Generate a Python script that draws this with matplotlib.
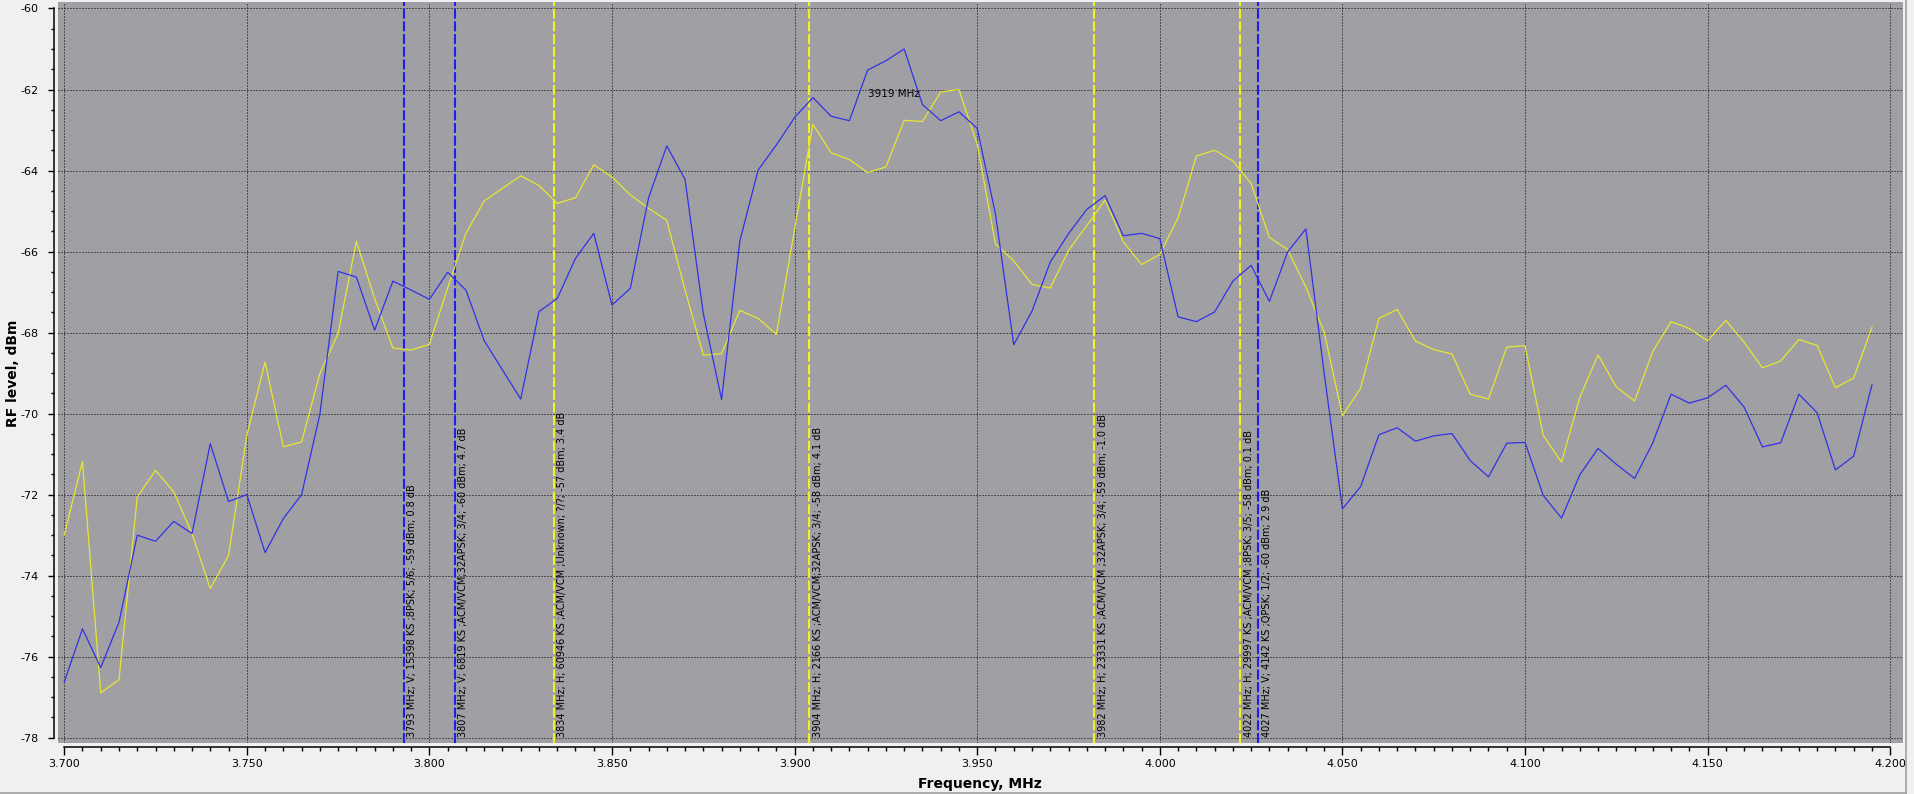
import numpy as np
import matplotlib.pyplot as plt
from matplotlib.ticker import MultipleLocator, FormatStrFormatter
from matplotlib.lines import Line2D

plt.rcParams['axes.unicode_minus'] = False
plt.rcParams['font.family'] = 'DejaVu Sans'

# sweep 3.700 ... 4.195, 100 points
freq = np.round(np.arange(3.700, 4.1975, 0.005), 3)

blue_level = [
    -76.63, -75.31, -76.27, -75.15, -73.00, -73.15, -72.66, -72.96, -70.74, -72.17,
    -72.00, -73.43, -72.59, -72.00, -70.02, -66.49, -66.63, -67.94, -66.73, -66.95,
    -67.18, -66.51, -66.95, -68.20, -68.92, -69.64, -67.48, -67.16, -66.17, -65.55,
    -67.32, -66.91, -64.68, -63.39, -64.22, -67.53, -69.65, -65.74, -63.99, -63.37,
    -62.69, -62.20, -62.66, -62.77, -61.52, -61.29, -61.00, -62.37, -62.77, -62.55,
    -62.96, -65.07, -68.30, -67.47, -66.26, -65.56, -64.96, -64.62, -65.61, -65.55,
    -65.68, -67.61, -67.73, -67.49, -66.73, -66.34, -67.23, -66.01, -65.44, -69.00,
    -72.35, -71.80, -70.52, -70.35, -70.68, -70.55, -70.49, -71.16, -71.56, -70.73,
    -70.71, -72.02, -72.58, -71.51, -70.86, -71.25, -71.60, -70.72, -69.52, -69.74,
    -69.61, -69.30, -69.84, -70.82, -70.72, -69.52, -69.98, -71.39, -71.05, -69.29,
]

yellow_level = [
    -73.00, -71.18, -76.89, -76.57, -72.06, -71.40, -71.93, -72.96, -74.32, -73.50,
    -70.54, -68.73, -70.82, -70.70, -69.01, -68.02, -65.75, -67.16, -68.38, -68.43,
    -68.29, -66.90, -65.55, -64.75, -64.44, -64.13, -64.37, -64.81, -64.67, -63.86,
    -64.16, -64.60, -64.93, -65.23, -66.95, -68.56, -68.52, -67.45, -67.65, -68.04,
    -65.45, -62.86, -63.56, -63.73, -64.05, -63.91, -62.76, -62.79, -62.06, -62.00,
    -63.35, -65.81, -66.23, -66.81, -66.90, -65.97, -65.36, -64.73, -65.76, -66.32,
    -66.07, -65.17, -63.64, -63.50, -63.76, -64.32, -65.65, -65.95, -66.88, -67.99,
    -70.05, -69.37, -67.65, -67.43, -68.21, -68.42, -68.53, -69.52, -69.64, -68.36,
    -68.32, -70.54, -71.20, -69.60, -68.55, -69.34, -69.69, -68.46, -67.73, -67.90,
    -68.20, -67.70, -68.24, -68.87, -68.70, -68.17, -68.32, -69.36, -69.12, -67.87,
]

marker_freq = [3.793, 3.807, 3.834, 3.904, 3.982, 4.022, 4.027]
marker_pol = ['V', 'V', 'H', 'H', 'H', 'H', 'V']
marker_text = [
    "3793 MHz; V; 15398 KS ;8PSK; 5/6; -59 dBm; 0.8 dB",
    "3807 MHz; V; 6819 KS ;ACM/VCM;32APSK; 3/4; -60 dBm; 4.7 dB",
    "3834 MHz; H; 60946 KS ;ACM/VCM ;Unknown; ?/?; -57 dBm; 3.4 dB",
    "3904 MHz; H; 2166 KS ;ACM/VCM;32APSK; 3/4; -58 dBm; 4.1 dB",
    "3982 MHz; H; 23331 KS ;ACM/VCM ;32APSK; 3/4; -59 dBm; -1.0 dB",
    "4022 MHz; H; 29997 KS ;ACM/VCM ;8PSK; 3/5; -58 dBm; 0.1 dB",
    "4027 MHz; V; 4142 KS ;QPSK; 1/2; -60 dBm; 2.9 dB",
]

cursor_freq = 3.919
cursor_level = -62.1

pol_color = {'V': '#1e1ef0', 'H': '#f2f21e'}

fig = plt.figure(figsize=(19.14, 7.94), dpi=100, facecolor='#f0f0f0')
ax = fig.add_axes([58 / 1914, 1 - 743 / 794, (1903 - 58) / 1914, (743 - 2) / 794])
ax.set_facecolor('#a09fa4')

for f, p in zip(marker_freq, marker_pol):
    ax.axvline(f, color=pol_color[p], lw=1.5, dashes=(4.8, 1.3), zorder=1.5)

ax.plot(freq, yellow_level, color='#e6e632', lw=0.9, zorder=2)
ax.plot(freq, blue_level, color='#3232e6', lw=0.9, zorder=2.1)

for f, t in zip(marker_freq, marker_text):
    ax.annotate(t, xy=(f, -78), xytext=(2.5, 0.5), textcoords='offset points',
                rotation=90, ha='left', va='bottom', fontsize=7, color='black', zorder=3)

ax.annotate("3919 MHz", xy=(cursor_freq, cursor_level), xytext=(3, 0),
            textcoords='offset points', ha='left', va='center', fontsize=7.5, zorder=3)

ax.set_xlim(3.6983, 4.2035)
ax.set_ylim(-78.13, -59.84)

ax.xaxis.set_major_locator(MultipleLocator(0.05))
ax.xaxis.set_minor_locator(MultipleLocator(0.005))
ax.xaxis.set_major_formatter(FormatStrFormatter('%.3f'))
ax.yaxis.set_major_locator(MultipleLocator(2))
ax.yaxis.set_minor_locator(MultipleLocator(0.5))
ax.yaxis.set_major_formatter(FormatStrFormatter('%d'))

for s in ['top', 'right']:
    ax.spines[s].set_visible(False)
ax.spines['left'].set_position(('outward', 3))
ax.spines['bottom'].set_position(('outward', 3))
ax.spines['left'].set_bounds(-78, -60)
ax.spines['bottom'].set_bounds(3.7, 4.2)
ax.spines['left'].set_linewidth(1.1)
ax.spines['bottom'].set_linewidth(1.1)

ax.tick_params(axis='x', which='major', length=5.5, width=1, pad=3, labelsize=8)
ax.tick_params(axis='x', which='minor', length=3, width=1)
ax.tick_params(axis='y', which='major', length=4, width=1, pad=7, labelsize=8)
ax.tick_params(axis='y', which='minor', length=2.4, width=1)

ax.set_axisbelow(True)
ax.grid(True, which='major', color='black', linestyle=(0, (1, 2)), linewidth=0.72)

fig.text(980 / 1914, 1 - 784 / 794, 'Frequency, MHz', ha='center', va='center',
         fontsize=10, fontweight='bold')
fig.text(13 / 1914, 1 - 373 / 794, 'RF level, dBm', rotation=90, ha='center',
         va='center', fontsize=10, fontweight='bold')

fig.add_artist(Line2D([1906 / 1914] * 2, [0, 1], color='#a0a0a0', lw=1.2,
                      transform=fig.transFigure))
fig.add_artist(Line2D([0, 1906 / 1914], [1 - 793 / 794] * 2, color='#a0a0a0', lw=1.2,
                      transform=fig.transFigure))

fig.savefig('out.png', dpi=100, facecolor=fig.get_facecolor())
